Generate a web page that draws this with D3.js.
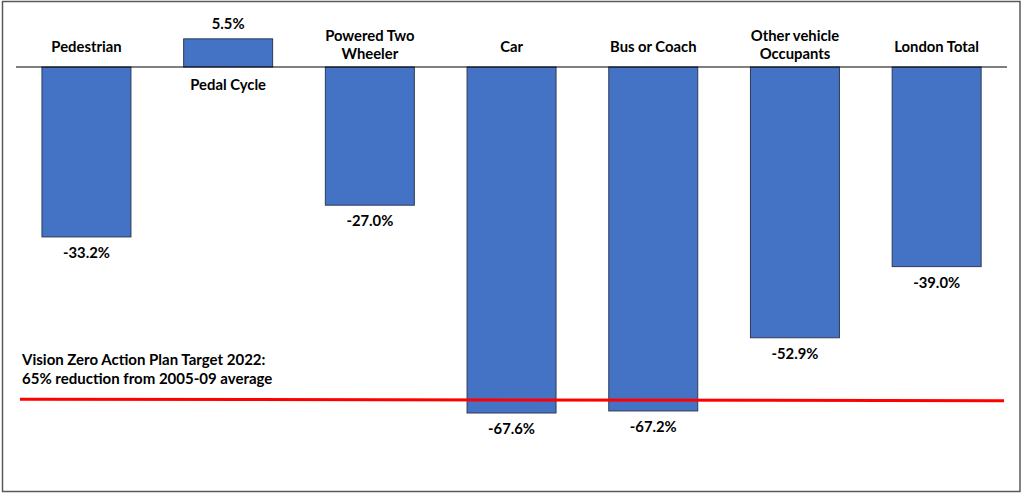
<!DOCTYPE html>
<html>
<head>
<meta charset="utf-8">
<script src="https://cdn.jsdelivr.net/npm/d3@7"></script>
<style>
  body { margin: 0; background: #fff; }
  text { font-family: Lato, "Open Sans", sans-serif; font-weight: bold; fill: #000; }
</style>
</head>
<body>
<div id="chart"></div>
<script>
// Data
const categories = ['Pedestrian', 'Pedal Cycle', 'Powered Two Wheeler', 'Car', 'Bus or Coach', 'Other vehicle Occupants', 'London Total'];
const labelLines = [['Pedestrian'], ['Pedal Cycle'], ['Powered Two', 'Wheeler'], ['Car'], ['Bus or Coach'], ['Other vehicle', 'Occupants'], ['London Total']];
const values = [-33.2, 5.5, -27.0, -67.6, -67.2, -52.9, -39.0];
const target = -65;
const targetText = ['Vision Zero Action Plan Target 2022:', '65% reduction from 2005-09 average'];

const width = 1023;
const height = 493;

const svg = d3.select("#chart").append("svg")
    .attr("width", width)
    .attr("height", height);

// outer frame
svg.append("rect")
    .attr("x", 2.5).attr("y", 1.5)
    .attr("width", 1017.5).attr("height", 490)
    .attr("fill", "none")
    .attr("stroke", "#595959")
    .attr("stroke-width", 1.5);

const x = d3.scaleBand()
    .domain(categories)
    .range([15.6, 1007.5])
    .paddingInner(0.372)
    .paddingOuter(0.186);

const y = d3.scaleLinear()
    .domain([0, -67.6])
    .range([67, 413]);

// bars
svg.selectAll('rect.bar')
    .data(values)
    .enter()
    .append('rect')
    .attr('class', 'bar')
    .attr('x', (d, i) => x(categories[i]))
    .attr('width', x.bandwidth())
    .attr('y', d => y(Math.max(0, d)))
    .attr('height', d => Math.abs(y(d) - y(0)))
    .attr('fill', '#4472C4')
    .attr('stroke', '#2F3B55')
    .attr('stroke-width', 1);

// baseline
svg.append('line')
    .attr('x1', 16).attr('x2', 1007)
    .attr('y1', y(0)).attr('y2', y(0))
    .attr('stroke', '#000')
    .attr('stroke-width', 1);

// value labels
svg.selectAll('text.value')
    .data(values)
    .enter()
    .append('text')
    .attr('class', 'value')
    .attr('x', (d, i) => x(categories[i]) + x.bandwidth() / 2)
    .attr('y', d => d >= 0 ? y(d) - 10 : y(d) + 21)
    .attr('text-anchor', 'middle')
    .style('font-size', '14.8px')
    .text(d => d.toFixed(1) + '%');

// category labels
const cat = svg.selectAll('text.cat')
    .data(labelLines)
    .enter()
    .append('text')
    .attr('class', 'cat')
    .attr('text-anchor', 'middle')
    .style('font-size', '14.8px')
    .attr('transform', (d, i) => {
      const cx = x(categories[i]) + x.bandwidth() / 2;
      let cy;
      if (values[i] >= 0) cy = y(0) + 23;
      else cy = d.length > 1 ? y(0) - 26 : y(0) - 15;
      return `translate(${cx},${cy})`;
    });

cat.selectAll('tspan')
    .data(d => d)
    .enter()
    .append('tspan')
    .attr('x', 0)
    .attr('dy', (d, i) => i === 0 ? 0 : 18)
    .text(d => d);

// target line
svg.append('line')
    .attr('x1', 20).attr('x2', 1004)
    .attr('y1', y(target) - 0.5).attr('y2', y(target) + 1)
    .attr('stroke', '#FF0000')
    .attr('stroke-width', 3);

svg.append('text')
    .selectAll('tspan')
    .data(targetText)
    .enter()
    .append('tspan')
    .attr('x', 22)
    .attr('y', (d, i) => 365 + i * 18.5)
    .style('font-size', '15px')
    .text(d => d);
</script>
</body>
</html>
